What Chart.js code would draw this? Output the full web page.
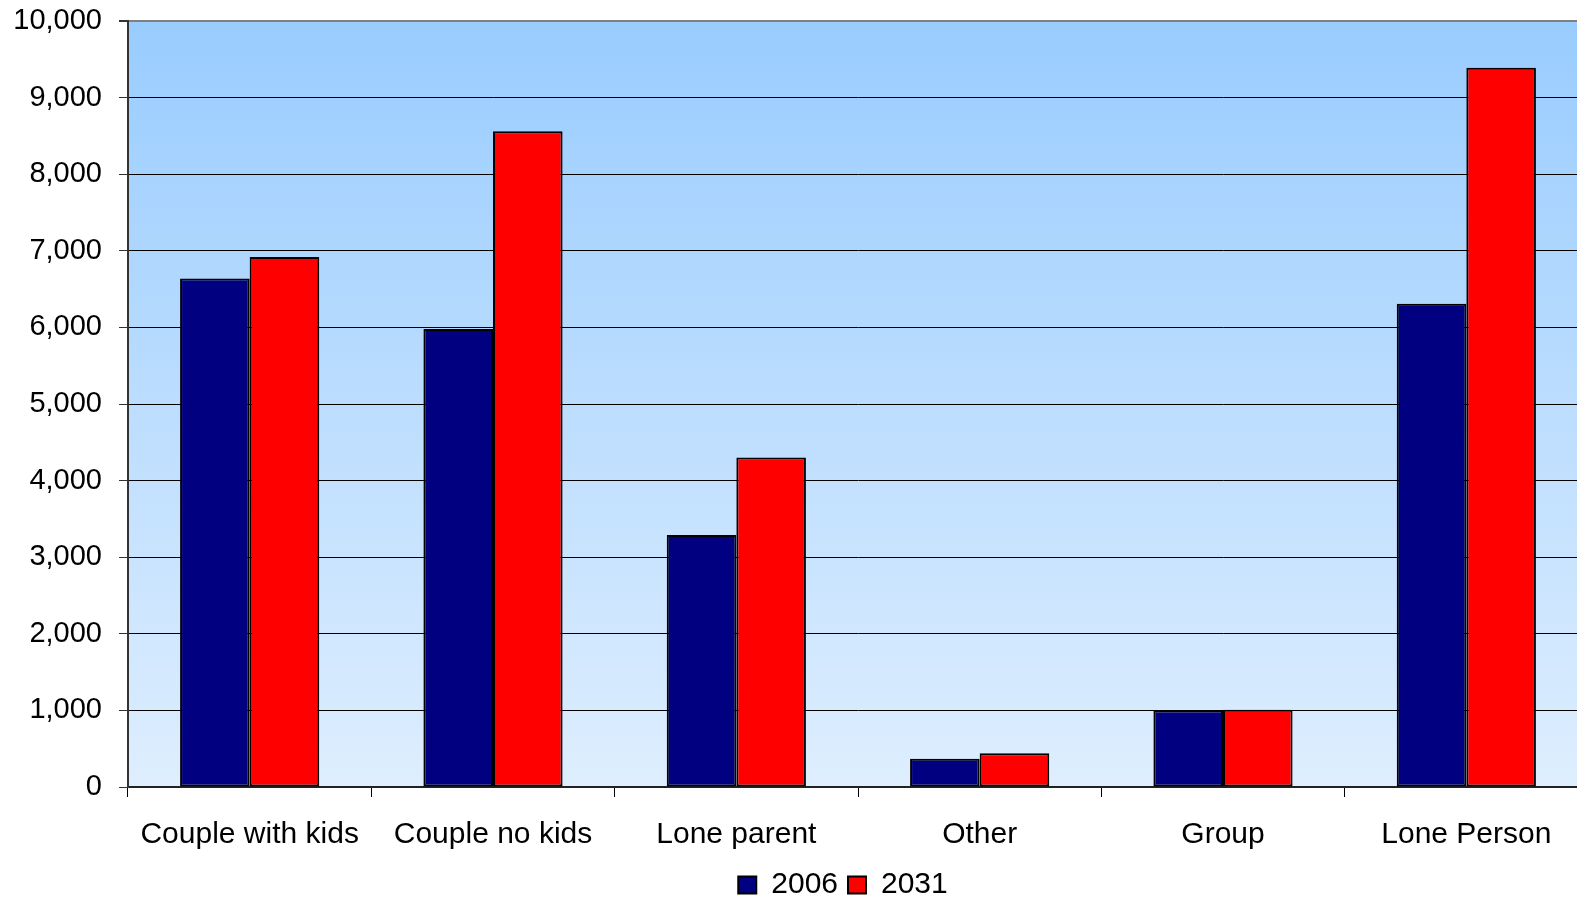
<!DOCTYPE html>
<html>
<head>
<meta charset="utf-8">
<script src="https://cdn.jsdelivr.net/npm/chart.js@4"></script>
<style>
    body { margin: 0; background: #fff; overflow: hidden; }
    #wrap { width: 1577px; height: 898px; overflow: hidden; }
</style>
</head>
<body>
<div id="wrap"><canvas id="households" width="1600" height="898"></canvas></div>
<script>
// Household types, 2006 vs 2031
const categories = ['Couple with kids', 'Couple no kids', 'Lone parent', 'Other', 'Group', 'Lone Person'];
const values2006 = [6640, 5980, 3290, 370, 1000, 6310];
const values2031 = [6920, 8560, 4300, 440, 1010, 9390];
const seriesLabels = ['2006', '2031'];
const yMax = 10000;
const yStep = 1000;

const font = 'Liberation Sans, Arial, sans-serif';

// Blue gradient behind the plot
const plotBackground = {
    id: 'plotBackground',
    beforeDraw(chart) {
        const { ctx, chartArea: a } = chart;
        const g = ctx.createLinearGradient(0, a.top, 0, a.bottom);
        g.addColorStop(0, '#99CCFF');
        g.addColorStop(1, '#DEEEFE');
        ctx.save();
        ctx.fillStyle = g;
        ctx.fillRect(a.left, a.top, a.right - a.left, a.bottom - a.top);
        ctx.restore();
    }
};

// Nudge the legend to where the original has it
const legendShift = {
    id: 'legendShift',
    afterLayout(chart) {
        const lg = chart.legend;
        lg.left += 43;
        lg.right += 43;
        lg.top -= 13;
        lg.bottom -= 13;
    }
};

const ctx = document.getElementById('households').getContext('2d');
const chart = new Chart(ctx, {
    type: 'bar',
    data: {
        labels: categories,
        datasets: [{
            label: seriesLabels[0],
            data: values2006,
            backgroundColor: '#000080',
            borderColor: '#000000',
            borderWidth: 2,
            borderSkipped: false
        }, {
            label: seriesLabels[1],
            data: values2031,
            backgroundColor: '#FF0000',
            borderColor: '#000000',
            borderWidth: 2,
            borderSkipped: false
        }]
    },
    options: {
        responsive: false,
        animation: false,
        layout: { padding: { left: 12, right: 12, top: 21, bottom: -25 } },
        datasets: {
            bar: { categoryPercentage: 0.572, barPercentage: 1.0 }
        },
        scales: {
            x: {
                grid: {
                    offset: true,
                    drawOnChartArea: false,
                    drawTicks: true,
                    tickLength: 10,
                    color: '#000'
                },
                border: { color: '#222', width: 2 },
                ticks: {
                    color: '#000',
                    padding: 20,
                    maxRotation: 0,
                    font: { family: font, size: 30 }
                }
            },
            y: {
                min: 0,
                max: yMax,
                afterFit: (scale) => {
                    scale.width = 116;
                    scale.paddingTop = 0;
                    scale.paddingBottom = 0;
                },
                grid: {
                    color: (c) => c.tick && c.tick.value === yMax ? '#808080' : '#000',
                    lineWidth: (c) => c.tick && c.tick.value === yMax ? 2 : 1,
                    tickLength: 9,
                    tickColor: '#333'
                },
                border: { color: '#333', width: 2 },
                ticks: {
                    stepSize: yStep,
                    color: '#000',
                    padding: 17,
                    font: { family: font, size: 29 },
                    callback: (v) => v.toLocaleString('en-US')
                }
            }
        },
        plugins: {
            legend: {
                position: 'bottom',
                labels: {
                    color: '#000',
                    boxWidth: 18,
                    boxHeight: 17,
                    padding: 10,
                    font: { family: font, size: 30 }
                }
            },
            tooltip: { enabled: false }
        }
    },
    plugins: [plotBackground, legendShift]
});
</script>
</body>
</html>
